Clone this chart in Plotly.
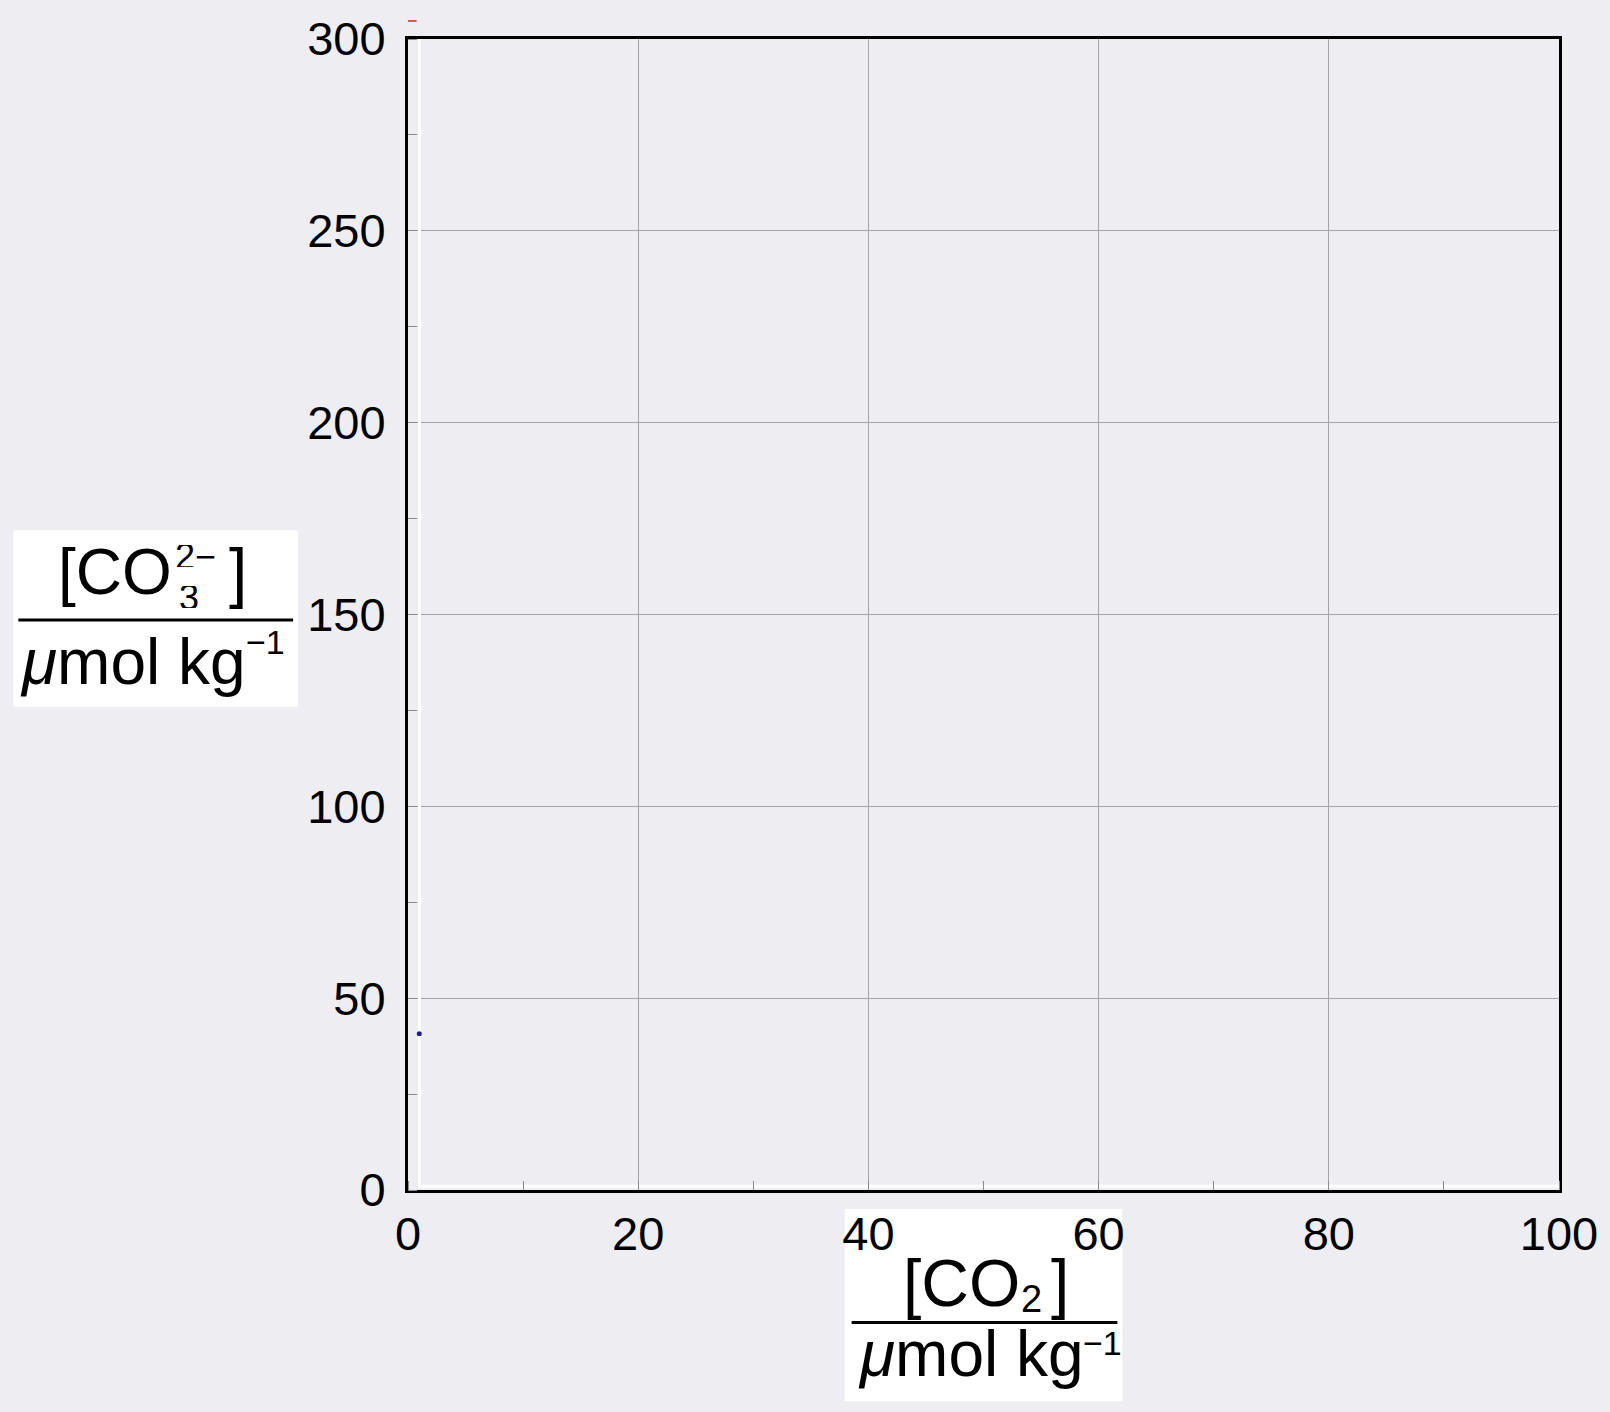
import plotly.graph_objects as go

# ---- data ----
x_range = [0, 100]
y_range = [0, 300]
x_tickvals = [0, 20, 40, 60, 80, 100]
x_ticktext = ["0", "20", "40", "60", "80", "100"]
y_tickvals = [0, 50, 100, 150, 200, 250, 300]
y_ticktext = ["0", "50", "100", "150", "200", "250", "300"]
white_line_x = [1, 1, 100]
white_line_y = [300, 1, 1]
red_mark_x = [0.0, 0.75]
red_mark_y = [304.7, 304.7]
blue_point_x = [0.98]
blue_point_y = [40.7]

W, H = 1610, 1412
L, R, T, B = 408, 1560, 35, 1190
FONT = "Liberation Sans, Arial, Helvetica, sans-serif"
BG = "#eeeef2"


def px(xp):
    return (xp - L) / (R - L)


def py(yp):
    return (B - yp) / (B - T)


def y_data_to_paper(v):
    return (v - y_range[0]) / (y_range[1] - y_range[0])


fig = go.Figure()
fig.add_trace(go.Scatter(x=white_line_x, y=white_line_y, mode="lines",
                         line=dict(color="white", width=3), hoverinfo="skip",
                         showlegend=False))
fig.add_trace(go.Scatter(x=blue_point_x, y=blue_point_y, mode="markers",
                         marker=dict(color="#1c1c96", size=5), showlegend=False))

axis_common = dict(
    showline=True, linecolor="black", linewidth=3, mirror=True,
    showgrid=True, gridcolor="#a4a4a8", gridwidth=1,
    zeroline=False, ticks="",
    tickfont=dict(family=FONT, size=47, color="black"),
)
fig.update_xaxes(range=x_range, tickvals=x_tickvals, ticktext=x_ticktext,
                 ticklabelstandoff=1,
                 minor=dict(dtick=10, tick0=0, ticks="inside", ticklen=9,
                            tickcolor="#8a8a8e", tickwidth=1, showgrid=False),
                 **axis_common)
fig.update_yaxes(range=y_range, tickvals=y_tickvals, ticktext=y_ticktext,
                 ticklabelstandoff=10,
                 minor=dict(dtick=25, tick0=0, ticks="inside", ticklen=9,
                            tickcolor="#8a8a8e", tickwidth=1, showgrid=False),
                 **axis_common)

shapes = [
    # white boxes behind axis titles
    dict(type="rect", xref="paper", yref="paper", x0=px(13), x1=px(298),
         y0=py(705), y1=py(528), fillcolor="white", line=dict(width=0), layer="below"),
    dict(type="rect", xref="paper", yref="paper", x0=px(845), x1=px(1123),
         y0=py(1402), y1=py(1209), fillcolor="white", line=dict(width=0), layer="below"),
    # fraction bars
    dict(type="line", xref="paper", yref="paper", x0=px(18), x1=px(293),
         y0=py(618), y1=py(618), line=dict(color="black", width=3)),
    dict(type="line", xref="paper", yref="paper", x0=px(852), x1=px(1118),
         y0=py(1323), y1=py(1323), line=dict(color="black", width=3)),
    # small red mark above the plot (x in data units)
    dict(type="line", xref="x", yref="paper",
         x0=red_mark_x[0], x1=red_mark_x[1],
         y0=y_data_to_paper(red_mark_y[0]), y1=y_data_to_paper(red_mark_y[1]),
         line=dict(color="#e02020", width=1.5)),
]

TF = 64
SF = 36
UF = 34


def ann(text, xpix, base, size, xanchor="left"):
    return dict(text=text, xref="paper", yref="paper", x=px(xpix),
                y=py(base + 0.24 * size), xanchor=xanchor, yanchor="bottom",
                showarrow=False, font=dict(family=FONT, size=size, color="black"))


def ann_tight(text, xpix, base, size):
    # compact box (for stacked super/subscripts)
    return dict(text=text, xref="paper", yref="paper", x=px(xpix),
                y=py(base - 0.35 * size), xanchor="left", yanchor="middle",
                height=int(size * 0.62), valign="middle", borderpad=0,
                showarrow=False, font=dict(family=FONT, size=size, color="black"))


annotations = [
    # y-axis title
    ann("[CO", 56, 593, TF),
    ann_tight("2\u2212", 174, 566, SF),
    ann_tight("3", 178, 608, SF),
    ann("]", 227, 593, 66),
    ann("<i>\u03bc</i>mol kg", 18, 683, 64),
    ann("\u22121", 244, 653, UF),
    # x-axis title
    ann("[CO", 901, 1307, 66),
    ann("2", 1020, 1313, 38),
    ann("]", 1050, 1307, 66),
    ann("<i>\u03bc</i>mol kg", 856, 1377, 64),
    ann("\u22121", 1082, 1356, UF),
]

fig.update_layout(
    width=W, height=H,
    margin=dict(l=L, r=W - R, t=T, b=H - B, pad=0),
    paper_bgcolor=BG, plot_bgcolor=BG,
    showlegend=False,
    shapes=shapes, annotations=annotations,
)

fig.write_html("out.html")
